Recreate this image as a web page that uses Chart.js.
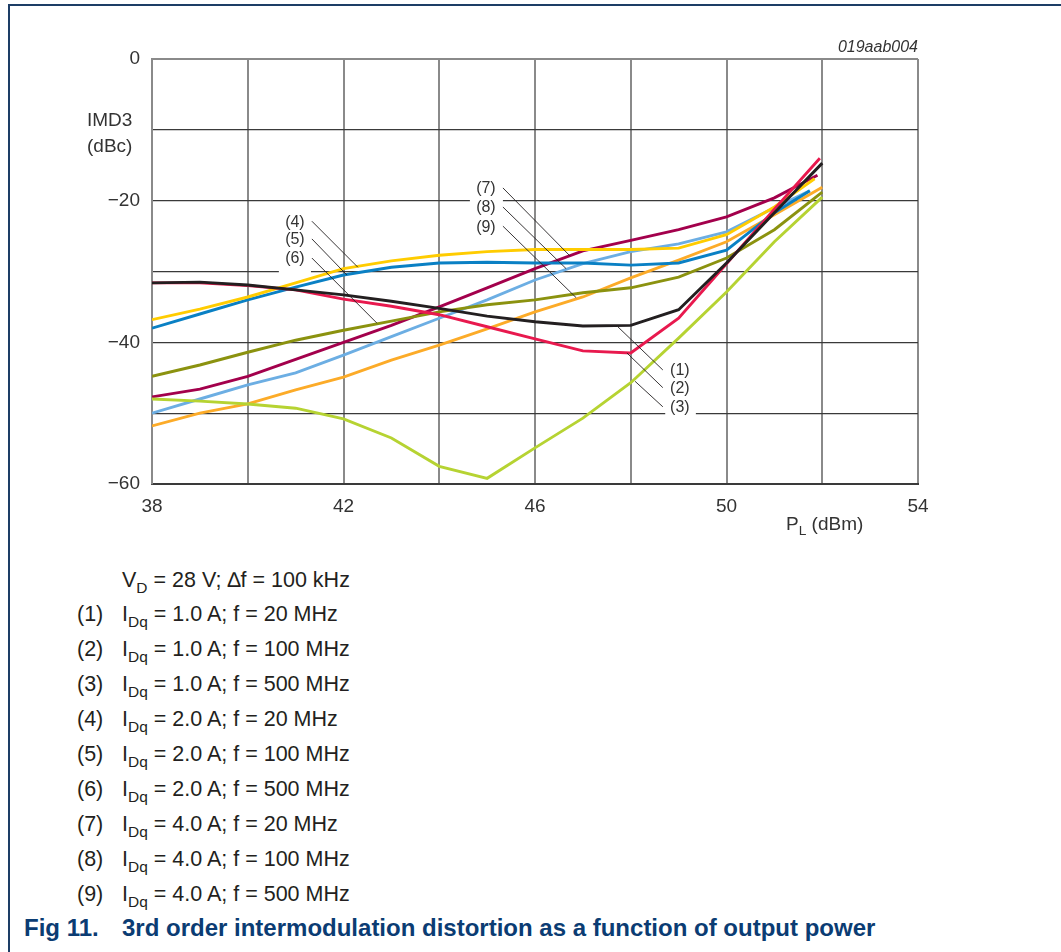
<!DOCTYPE html>
<html>
<head>
<meta charset="utf-8">
<script src="https://cdn.jsdelivr.net/npm/chart.js@4.4.1/dist/chart.umd.min.js"></script>
<style>
  html, body { margin: 0; padding: 0; background: #fff; }
  body { width: 1061px; height: 952px; position: relative; overflow: hidden;
         font-family: "Liberation Sans", Arial, sans-serif; color: #231f20; }
  #frameTop { position: absolute; left: 9px; top: 4px; width: 1052px; height: 2px; background: #1d3d66; }
  #frameLeft { position: absolute; left: 8px; top: 4px; width: 2px; height: 948px; background: #1d3d66; }
  #c { position: absolute; left: 0; top: 0; }
  .t { position: absolute; white-space: nowrap; line-height: 1; }
  sub { font-size: 0.72em; vertical-align: -0.38em; line-height: 0; }
  .cap { position: absolute; font-size: 21.5px; white-space: nowrap; line-height: 20px; }
  .num { position: absolute; left: 77px; }
  .txt { position: absolute; left: 122px; }
  #fig { position: absolute; top: 918px; left: 0; width: 1061px; font-size: 24px; font-weight: bold; color: #0b3c73; white-space: nowrap; line-height: 20px; }
</style>
</head>
<body>
<div id="frameTop"></div>
<div id="frameLeft"></div>
<canvas id="c" width="1061" height="545"></canvas>

<div class="t" style="right:143px; top:39px; font-size:16px; font-style:italic; color:#333;">019aab004</div>
<div class="t" style="left:87px; top:110px; font-size:19px; color:#333;">IMD3</div>
<div class="t" style="left:87px; top:136px; font-size:19px; color:#333;">(dBc)</div>
<div class="t" style="left:786px; top:514px; font-size:19px; color:#333;">P<sub>L</sub> (dBm)</div>

<div id="captions"></div>
<div id="fig"><span style="position:absolute; left:24px;">Fig 11.</span><span style="position:absolute; left:122px;">3rd order intermodulation distortion as a function of output power</span></div>

<script>
// ---- data ----
const PL = [38, 39, 40, 41, 42, 43, 44, 45, 46, 47, 48, 49, 50, 51, 52];
const lastPL = [52, 51.95, 52, 51.84, 51.74, 52, 51.9, 51.74, 52];
const s1 = [-31.6, -31.5, -31.9, -32.6, -33.3, -34.2, -35.2, -36.3, -37.1, -37.7, -37.6, -35.4, -28.8, -21.7, -14.7];
const s2 = [-31.6, -31.6, -32.0, -32.6, -33.9, -34.9, -36.1, -37.8, -39.5, -41.2, -41.5, -36.6, -28.9, -21.2, -14.0];
const s3 = [-48.0, -48.3, -48.7, -49.3, -50.8, -53.5, -57.5, -59.2, -54.9, -50.7, -45.7, -39.4, -32.9, -25.8, -19.5];
const s4 = [-36.8, -35.3, -33.6, -31.6, -29.6, -28.5, -27.7, -27.2, -26.9, -26.9, -26.9, -26.7, -24.8, -20.9, -16.9];
const s5 = [-38.0, -36.0, -34.0, -32.2, -30.5, -29.4, -28.8, -28.7, -28.8, -28.8, -29.1, -28.8, -27.0, -21.7, -18.6];
const s6 = [-44.8, -43.2, -41.4, -39.7, -38.3, -37.0, -35.7, -34.7, -34.0, -33.0, -32.3, -30.8, -28.1, -24.1, -18.8];
const s7 = [-47.7, -46.6, -44.8, -42.4, -40.0, -37.6, -35.0, -32.3, -29.6, -27.1, -25.6, -24.1, -22.3, -19.6, -16.4];
const s8 = [-50.0, -48.0, -46.0, -44.3, -41.8, -39.2, -36.6, -34.0, -31.2, -28.9, -27.2, -26.1, -24.4, -21.0, -18.6];
const s9 = [-51.8, -50.0, -48.7, -46.7, -44.9, -42.5, -40.4, -38.1, -35.7, -33.6, -30.9, -28.4, -25.8, -22.0, -18.1];
const seriesLabels = ['(1)', '(2)', '(3)', '(4)', '(5)', '(6)', '(7)', '(8)', '(9)'];
const yTickLabels = { '0': '0', '-20': '\u221220', '-40': '\u221240', '-60': '\u221260' };
const xTickLabels = { '38': '38', '42': '42', '46': '46', '50': '50', '54': '54' };
// leader lines: label anchor (x,y) -> curve point (x,y), in data units
const leadFromX = [48.67, 48.67, 48.67, 41.34, 41.34, 41.34, 45.33, 45.33, 45.33];
const leadFromY = [-43.9, -46.4, -49.1, -22.9, -25.4, -28.1, -18.2, -20.9, -23.6];
const leadToX   = [47.73, 47.92, 48.09, 42.30, 42.07, 42.70, 46.73, 46.65, 46.86];
const leadToY   = [-37.8, -41.5, -45.5, -29.4, -30.5, -37.3, -27.8, -29.6, -33.7];
// breaks in horizontal grid lines (data units)
const gapY  = [-30, -20, -50];
const gapX1 = [40.65, 44.64, 48.72];
const gapX2 = [41.32, 45.33, 49.36];
const captionHead = 'V<sub>D</sub> = 28 V; \u2206f = 100 kHz';
const captionIdq = ['1.0', '1.0', '1.0', '2.0', '2.0', '2.0', '4.0', '4.0', '4.0'];
const captionF = ['20', '100', '500', '20', '100', '500', '20', '100', '500'];

// ---- styles ----
const colors = ['#231f20', '#e8194e', '#b6d332', '#ffcc00', '#0a80c4', '#8b920f', '#a3004c', '#6caee3', '#fcab28'];
const allSeries = [s1, s2, s3, s4, s5, s6, s7, s8, s9];

const datasets = allSeries.map((s, i) => ({
  label: seriesLabels[i],
  data: s.map((v, k) => ({ x: k === s.length - 1 ? lastPL[i] : PL[k], y: v })),
  borderColor: colors[i],
  borderWidth: 2.9,
  pointRadius: 0,
  tension: 0,
  fill: false
}));

const annot = {
  id: 'annot',
  beforeDatasetsDraw(chart) {
    const { ctx, scales: { x, y } } = chart;
    ctx.save();
    ctx.fillStyle = '#ffffff';
    for (let i = 0; i < gapY.length; i++) {
      const py = y.getPixelForValue(gapY[i]);
      const a = x.getPixelForValue(gapX1[i]);
      const b = x.getPixelForValue(gapX2[i]);
      ctx.fillRect(a, py - 2.5, b - a, 5);
    }
    ctx.restore();
  },
  afterDatasetsDraw(chart) {
    const { ctx, scales: { x, y } } = chart;
    ctx.save();
    ctx.strokeStyle = '#231f20';
    ctx.lineWidth = 0.9;
    ctx.font = "16px 'Liberation Sans', Arial, sans-serif";
    ctx.fillStyle = '#333';
    ctx.textBaseline = 'middle';
    ctx.textAlign = 'center';
    for (let i = 0; i < seriesLabels.length; i++) {
      const x0 = x.getPixelForValue(leadFromX[i]);
      const y0 = y.getPixelForValue(leadFromY[i]);
      const x1 = x.getPixelForValue(leadToX[i]);
      const y1 = y.getPixelForValue(leadToY[i]);
      ctx.beginPath();
      ctx.moveTo(x0, y0);
      ctx.lineTo(x1, y1);
      ctx.stroke();
      const dx = i < 3 ? 17 : -17;
      ctx.fillText(seriesLabels[i], x0 + dx, y0 + 1);
    }
    ctx.restore();
  }
};

new Chart(document.getElementById('c'), {
  type: 'line',
  data: { datasets },
  options: {
    responsive: false,
    devicePixelRatio: 1,
    animation: false,
    layout: { padding: { left: 0, top: 59, right: 143, bottom: 0 } },
    plugins: { legend: { display: false }, tooltip: { enabled: false }, title: { display: false } },
    scales: {
      x: {
        type: 'linear', min: 38, max: 54,
        afterFit(s) { s.height = 61; },
        ticks: {
          stepSize: 2, padding: 11, color: '#333', maxRotation: 0, autoSkip: false,
          font: { size: 19, family: "'Liberation Sans', Arial, sans-serif" },
          callback: v => xTickLabels[String(v)] || ''
        },
        grid: { color: '#8a8a8a', lineWidth: 2, drawTicks: false },
        border: { display: true, color: '#3a3a3a', width: 2 }
      },
      y: {
        type: 'linear', min: -60, max: 0,
        afterFit(s) { s.width = 152; },
        ticks: {
          stepSize: 10, padding: 12, color: '#333',
          font: { size: 19, family: "'Liberation Sans', Arial, sans-serif" },
          callback: v => yTickLabels[String(v)] || ''
        },
        grid: {
          color: c => (c.tick && c.tick.value === 0) ? '#8a8a8a' : '#3a3a3a',
          lineWidth: c => (c.tick && c.tick.value === 0) ? 2 : 1.3,
          drawTicks: false
        },
        border: { display: true, color: '#8a8a8a', width: 2 }
      }
    }
  },
  plugins: [annot]
});

// ---- captions ----
const capBox = document.getElementById('captions');
function addLine(top, numText, html) {
  const d = document.createElement('div');
  d.className = 'cap';
  d.style.top = top + 'px';
  d.style.left = '0px';
  d.style.width = '1000px';
  if (numText) {
    const n = document.createElement('span');
    n.className = 'num'; n.textContent = numText; d.appendChild(n);
  }
  const t = document.createElement('span');
  t.className = 'txt'; t.innerHTML = html; d.appendChild(t);
  capBox.appendChild(d);
}
addLine(570, '', captionHead);
for (let i = 0; i < 9; i++) {
  addLine(604 + i * 35, seriesLabels[i], 'I<sub>Dq</sub> = ' + captionIdq[i] + ' A; f = ' + captionF[i] + ' MHz');
}
</script>
</body>
</html>
